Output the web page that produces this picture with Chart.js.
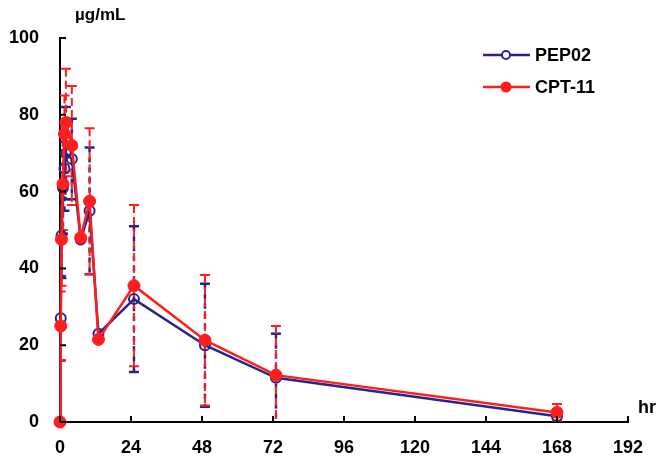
<!DOCTYPE html>
<html>
<head>
<meta charset="utf-8">
<script src="https://cdn.jsdelivr.net/npm/chart.js@4"></script>
<style>
  html, body { margin: 0; padding: 0; background: #fff; }
  #wrap { width: 661px; height: 461px; position: relative; }
</style>
</head>
<body>
<div id="wrap"><canvas id="grafico" width="661" height="461"></canvas></div>
<script>
// dados
const tempos = [0, 0.25, 0.5, 1, 1.5, 2, 4, 7, 10, 13, 25, 49, 73, 168];
const pep02 = [0, 27, 48.5, 61, 66, 70, 68.5, 47.5, 55, 23, 32, 20, 11.5, 1.5];
const pep02Dp = [0, 11, 11, 12, 11, 12, 10.5, 0, 16.5, 0, 19, 16, 11.5, 0];
const cpt11 = [0, 25, 47.5, 62, 75, 78, 72, 48, 57.5, 21.5, 35.5, 21.3, 12.2, 2.5];
const cpt11Dp = [0, 9, 12, 12, 10, 14, 15.5, 0, 19, 0, 21, 17, 12.8, 2.2];
const ticksX = [0, 24, 48, 72, 96, 120, 144, 168, 192];
const ticksY = [0, 20, 40, 60, 80, 100];

const azul = "#26268a";
const vermelho = "#ff1e1e";
const fonte = "'Liberation Sans', Arial, sans-serif";

function pontos(valores) {
  return tempos.map((t, i) => ({ x: t, y: valores[i] }));
}

// barras de erro tracejadas
const barrasErro = {
  id: "barrasErro",
  beforeDatasetsDraw(chart) {
    const { ctx, chartArea, scales } = chart;
    const series = [
      { v: pep02, dp: pep02Dp, cor: azul, dash: [5, 5], w: 2.5 },
      { v: cpt11, dp: cpt11Dp, cor: vermelho, dash: [8, 4], w: 2 }
    ];
    ctx.save();
    ctx.beginPath();
    ctx.rect(chartArea.left, chartArea.top, chartArea.right - chartArea.left, chartArea.bottom - chartArea.top);
    ctx.clip();
    series.forEach(s => {
      ctx.strokeStyle = s.cor;
      ctx.lineWidth = s.w;
      tempos.forEach((t, i) => {
        if (!s.dp[i]) return;
        const x = scales.x.getPixelForValue(t);
        const yt = scales.y.getPixelForValue(s.v[i] + s.dp[i]);
        const yb = scales.y.getPixelForValue(s.v[i] - s.dp[i]);
        ctx.setLineDash(s.dash);
        ctx.beginPath();
        ctx.moveTo(x, yt);
        ctx.lineTo(x, yb);
        ctx.stroke();
        ctx.setLineDash([]);
        ctx.beginPath();
        ctx.moveTo(x - 5, yt);
        ctx.lineTo(x + 5, yt);
        if (s.v[i] - s.dp[i] > 0) {
          ctx.moveTo(x - 5, yb);
          ctx.lineTo(x + 5, yb);
        }
        ctx.stroke();
      });
    });
    ctx.restore();
  },
  afterDraw(chart) {
    const { ctx, chartArea, scales } = chart;
    ctx.save();
    // tracinhos internos
    ctx.strokeStyle = "#000";
    ctx.lineWidth = 2;
    ctx.beginPath();
    ticksX.forEach(t => {
      const x = scales.x.getPixelForValue(t);
      ctx.moveTo(x, chartArea.bottom);
      ctx.lineTo(x, chartArea.bottom - 6);
    });
    ticksY.forEach(v => {
      const y = scales.y.getPixelForValue(v);
      ctx.moveTo(chartArea.left, y);
      ctx.lineTo(chartArea.left + 6, y);
    });
    ctx.stroke();

    // títulos dos eixos
    ctx.fillStyle = "#000";
    ctx.font = "bold 17px " + fonte;
    ctx.textBaseline = "middle";
    ctx.textAlign = "left";
    ctx.fillText("µg/mL", 75, 15);
    ctx.font = "bold 18px " + fonte;
    ctx.fillText("hr", 638, 408);

    // legenda
    const itens = [
      { nome: "PEP02", cor: azul, y: 55, cheio: false },
      { nome: "CPT-11", cor: vermelho, y: 87, cheio: true }
    ];
    itens.forEach(it => {
      ctx.strokeStyle = it.cor;
      ctx.lineWidth = 2.5;
      ctx.beginPath();
      ctx.moveTo(483, it.y);
      ctx.lineTo(530, it.y);
      ctx.stroke();
      ctx.beginPath();
      ctx.arc(506, it.y, it.cheio ? 5.5 : 4, 0, Math.PI * 2);
      if (it.cheio) {
        ctx.fillStyle = it.cor;
        ctx.fill();
      } else {
        ctx.fillStyle = "#fff";
        ctx.fill();
        ctx.lineWidth = 2;
        ctx.stroke();
      }
      ctx.fillStyle = "#000";
      ctx.font = "bold 18px " + fonte;
      ctx.fillText(it.nome, 535, it.y + 1);
    });
    ctx.restore();
  }
};

const grafico = new Chart(document.getElementById("grafico"), {
  type: "line",
  data: {
    datasets: [
      {
        label: "CPT-11",
        data: pontos(cpt11),
        borderColor: vermelho,
        backgroundColor: vermelho,
        borderWidth: 2.5,
        pointRadius: 6,
        pointBackgroundColor: vermelho,
        pointBorderColor: vermelho,
        pointBorderWidth: 1,
        tension: 0,
        clip: false,
        order: 0
      },
      {
        label: "PEP02",
        data: pontos(pep02),
        borderColor: azul,
        backgroundColor: "#fff",
        borderWidth: 2.5,
        pointRadius: 5,
        pointBackgroundColor: "rgba(255,255,255,0)",
        pointBorderColor: azul,
        pointBorderWidth: 2,
        tension: 0,
        clip: false,
        order: 1
      }
    ]
  },
  options: {
    responsive: false,
    animation: false,
    layout: { padding: { left: 0, right: 33, top: 38, bottom: 0 } },
    plugins: { legend: { display: false }, tooltip: { enabled: false } },
    scales: {
      x: {
        type: "linear",
        min: 0,
        max: 192,
        afterBuildTicks: s => { s.ticks = ticksX.map(v => ({ value: v })); },
        afterFit: s => { s.height = 39; },
        grid: { display: false, drawTicks: false },
        border: { display: true, color: "#000", width: 2 },
        ticks: { color: "#000", padding: 15, maxRotation: 0, font: { family: fonte, size: 18, weight: "bold" } }
      },
      y: {
        min: 0,
        max: 100,
        afterBuildTicks: s => { s.ticks = ticksY.map(v => ({ value: v })); },
        afterFit: s => { s.width = 60; },
        grid: { display: false, drawTicks: false },
        border: { display: true, color: "#000", width: 2 },
        ticks: { color: "#000", padding: 21, font: { family: fonte, size: 18, weight: "bold" } }
      }
    }
  },
  plugins: [barrasErro]
});
</script>
</body>
</html>
